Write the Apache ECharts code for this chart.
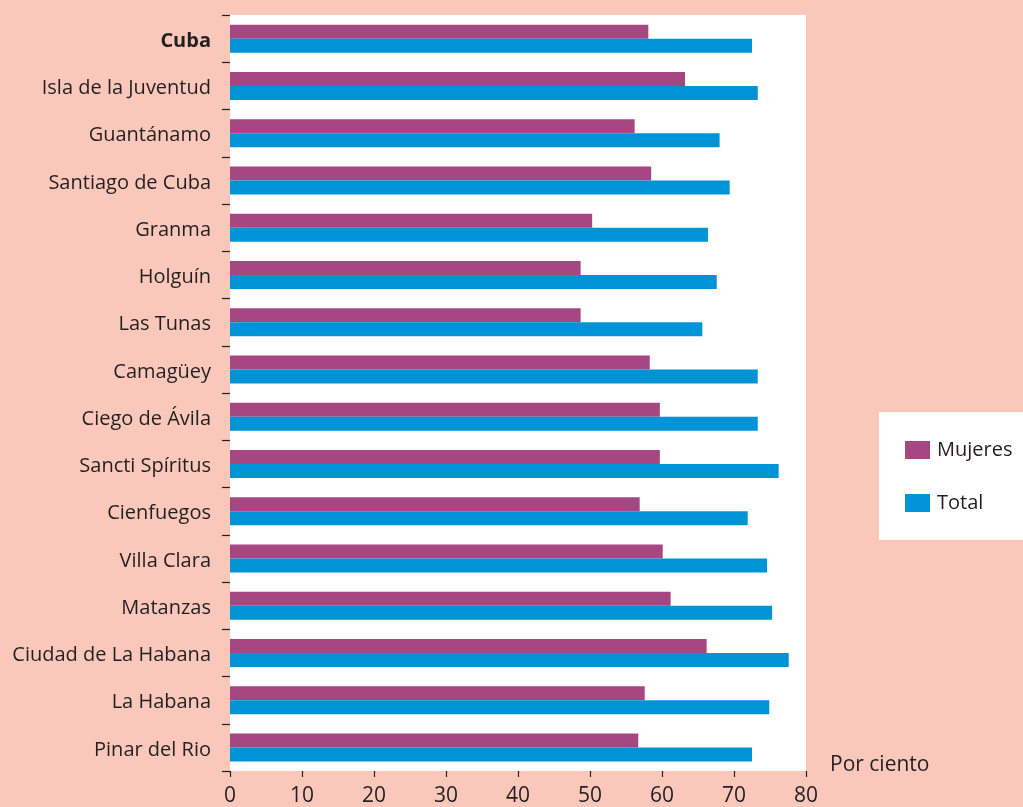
<!DOCTYPE html>
<html><head><meta charset="utf-8">
<script src="https://cdn.jsdelivr.net/npm/echarts@6/dist/echarts.min.js"></script>
<style>html,body{margin:0;padding:0;background:#F9C8BA;}#c{width:1023px;height:807px;}</style>
</head><body><div id="c"></div>
<script>
const categories = ["Cuba","Isla de la Juventud","Guantánamo","Santiago de Cuba","Granma","Holguín","Las Tunas","Camagüey","Ciego de Ávila","Sancti Spíritus","Cienfuegos","Villa Clara","Matanzas","Ciudad de La Habana","La Habana","Pinar del Rio"];
const mujeres = [58.1,63.2,56.2,58.5,50.3,48.7,48.7,58.3,59.7,59.7,56.9,60.1,61.2,66.2,57.6,56.7];
const total = [72.5,73.3,68.0,69.4,66.4,67.6,65.6,73.3,73.3,76.2,71.9,74.6,75.3,77.6,74.9,72.5];
const xTicks = [0,10,20,30,40,50,60,70,80];
const FONT = "'Open Sans', 'Noto Sans', sans-serif";
const chart = echarts.init(document.getElementById('c'), null, {renderer:'canvas'});
chart.setOption({
  backgroundColor:'#F9C8BA',
  animation:false,
  textStyle:{fontFamily:FONT},
  grid:{left:230,right:217,top:15,bottom:35,show:true,backgroundColor:'#ffffff',borderWidth:0,containLabel:false},
  xAxis:{type:'value',min:xTicks[0],max:xTicks[xTicks.length-1],interval:10,
    axisLine:{show:false},axisTick:{show:true,length:6,lineStyle:{color:'#231F20',width:1.2}},
    splitLine:{show:false},
    axisLabel:{fontSize:21,color:'#231F20',margin:15,fontFamily:FONT}},
  yAxis:{type:'category',data:categories,inverse:true,
    axisLine:{show:false},axisTick:{show:true,length:8,lineStyle:{color:'#231F20',width:1.2}},
    axisLabel:{fontSize:20,color:'#231F20',margin:19,fontFamily:FONT,padding:[5,0,0,0],
      formatter:function(v){return v==='Cuba'?'{b|'+v+'}':v;},
      rich:{b:{fontWeight:'bold',fontSize:20,color:'#231F20',fontFamily:FONT}}}},
  legend:{orient:'vertical',left:900,top:435,itemWidth:25,itemHeight:18,itemGap:33,
    icon:'rect',textStyle:{fontSize:20,color:'#231F20',fontFamily:FONT,padding:[0,0,0,2]},
    data:['Mujeres','Total']},
  graphic:[
    {type:'rect',left:879,top:412,shape:{width:144,height:128},style:{fill:'#ffffff'},z:-1},
    {type:'text',left:830,top:755,style:{text:'Por ciento',fontSize:21,fill:'#231F20',fontFamily:FONT}}
  ],
  series:[
    {name:'Mujeres',type:'bar',data:mujeres,barWidth:14,barGap:'0%',itemStyle:{color:'#A64682'}},
    {name:'Total',type:'bar',data:total,barWidth:14,barGap:'0%',itemStyle:{color:'#0094D7'}}
  ]
});
</script></body></html>
